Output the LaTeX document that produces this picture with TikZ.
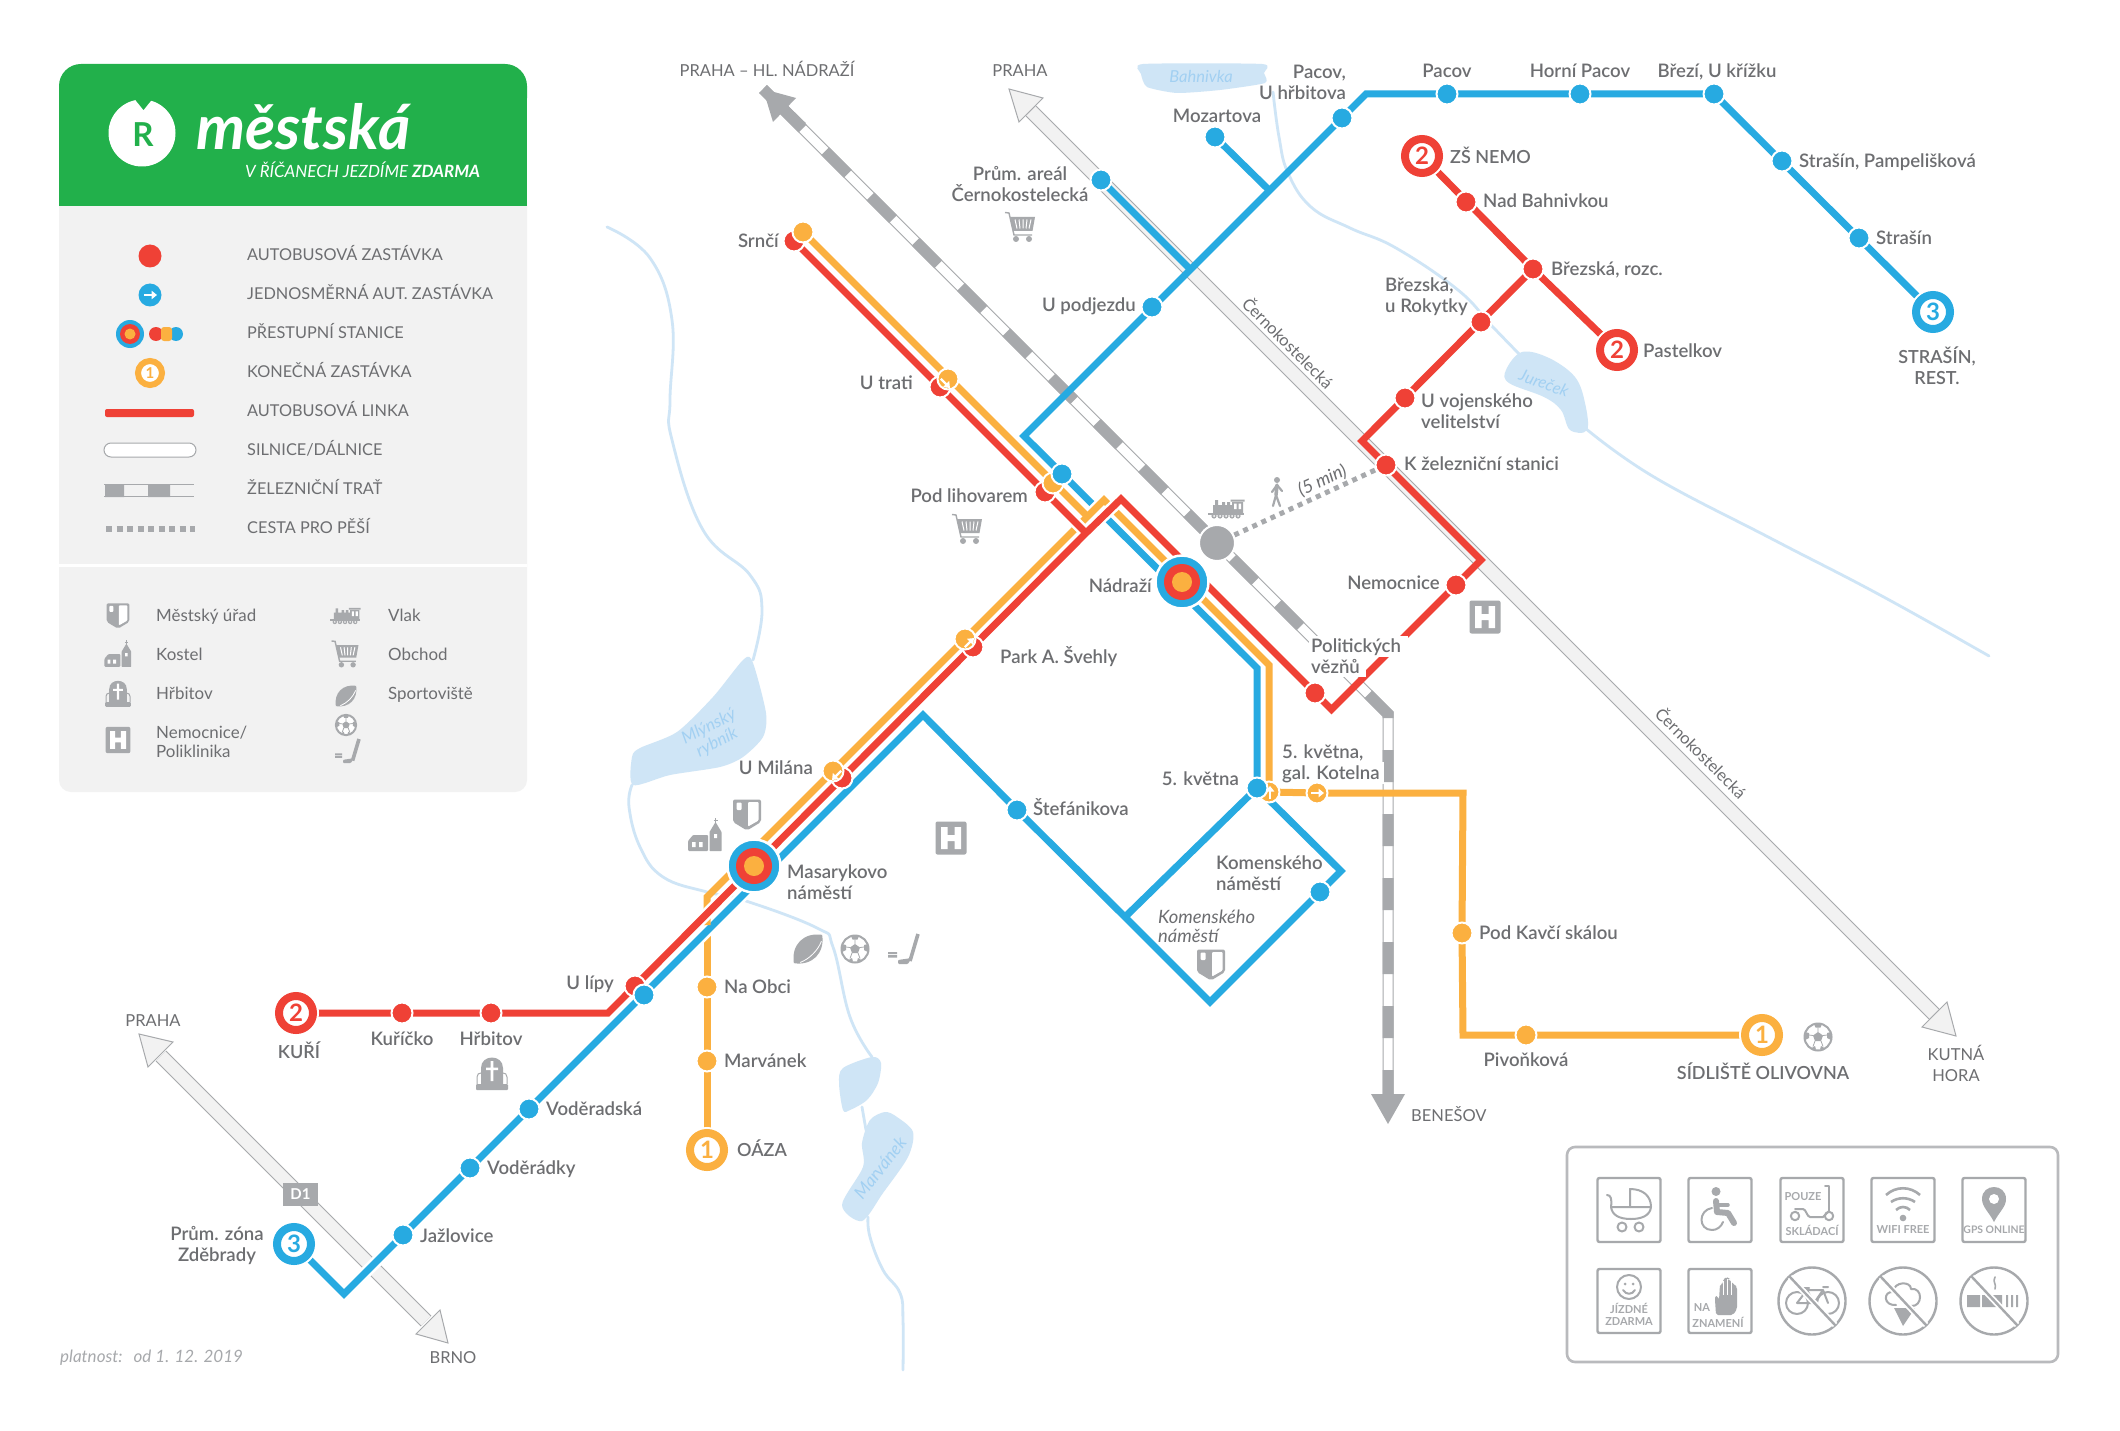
\documentclass[tikz,border=0pt]{standalone}
\usepackage{fontspec}
\setmainfont{Lato}
\newfontfamily\medf{Lato Semibold}
\usetikzlibrary{arrows.meta,calc}
\definecolor{cblue}{HTML}{27AAE1}
\definecolor{cred}{HTML}{EF4136}
\definecolor{corange}{HTML}{FBB040}
\definecolor{cgreen}{HTML}{22B04B}
\definecolor{cgrey}{HTML}{A7A9AC}
\definecolor{cpanel}{HTML}{F2F2F2}
\definecolor{criver}{HTML}{CFE5F6}
\definecolor{criv}{HTML}{A2D0F2}
\definecolor{ctext}{HTML}{6D6E71}
\pgfdeclarelayer{front}
\pgfsetlayers{main,front}
\tikzset{
 lab/.style={font=\fontsize{18.6}{21}\selectfont\medf,text=ctext,inner sep=0pt,text height=16,text depth=3},
 labu/.style={lab,font=\fontsize{18}{21}\selectfont\medf},
 labm/.style={font=\fontsize{18.6}{21}\selectfont\medf,text=ctext,inner sep=0pt,align=left},
 dest/.style={font=\fontsize{16.5}{21}\selectfont,text=ctext,inner sep=0pt,text height=16,text depth=3},
 legt/.style={font=\fontsize{16.3}{20}\selectfont,text=ctext,inner sep=0pt,anchor=west,text height=16,text depth=3},
 legl/.style={legt,font=\fontsize{16.9}{20}\selectfont},
 stop/.style={circle,draw=white,line width=2,inner sep=0pt,minimum size=21},
 rstop/.style={stop,fill=cred},
 bstop/.style={stop,fill=cblue},
 ostop/.style={stop,fill=corange},
 term/.style={circle,fill=white,draw=#1,line width=8,inner sep=0pt,minimum size=34,text=#1,
   font=\fontsize{24}{24}\selectfont\bfseries,preaction={draw=white,line width=12}},
 hubo/.style={circle,fill=cblue,draw=white,line width=2.5,inner sep=0pt,minimum size=53},
 hubm/.style={circle,fill=cred,inner sep=0pt,minimum size=36},
 hubi/.style={circle,fill=corange,inner sep=0pt,minimum size=20},
 line/.style={line width=7,draw=#1},
 casing/.style={line width=12,draw=white},
 river/.style={draw=criver,line width=2.8,line cap=round},
 pond/.style={fill=criver},
 rivt/.style={font=\fontsize{16.5}{18}\selectfont\itshape,text=criv,inner sep=0pt,align=center},
 road/.style={draw=cgrey,line width=15},
 roadin/.style={draw=cpanel,line width=13},
 arrowroad/.style={fill=cpanel,draw=cgrey,line width=1},
 sym/.style={font=\fontsize{11}{12}\selectfont\bfseries,text=cgrey,inner sep=0pt},
 fr/.style={draw=cgrey,line width=2.4,rounded corners=2},
 ic/.style={draw=cgrey,line width=2,line cap=round,line join=round},
 shieldicon/.pic={
   \fill[cgrey,rounded corners=2] (-14,-15.5) -- (14,-15.5) -- (14,7) -- (0,15.5) -- (-14,7) -- cycle;
   \fill[white,rounded corners=1] (1,-13) -- (11.5,-13) -- (11.5,5.5) -- (1,11.5) -- cycle;
   \fill[white,rounded corners=1] (-10.5,-12.5) rectangle (-5.5,-5);},
 churchicon/.pic={
   \fill[cgrey,rounded corners=1] (-17,16) -- (-17,6) -- (-12,0) -- (3,0) -- (3,16) -- cycle;
   \fill[cgrey,rounded corners=.5] (4.5,16) -- (4.5,-3) -- (10.5,-13) -- (16.5,-3) -- (16.5,16) -- cycle;
   \draw[cgrey,line width=1] (10.5,-17) -- (10.5,-12) (8.5,-15) -- (12.5,-15);
   \fill[white] (-13,7) rectangle (-9.5,12) (-6,7) rectangle (-2.5,12) (9,-1) rectangle (12,3);},
 carticon/.pic={
   \draw[cgrey,line width=1.4] (-15,-14.5) -- (-11,-14) -- (-6,8) -- (12,8);
   \fill[cgrey] (-10,-10) -- (15,-10) -- (12.5,4) -- (-7,4) -- cycle;
   \draw[white,line width=1] (-5,-7.5) -- (-3,1.5) (-1,-7.5) -- (0,1.5) (3,-7.5) -- (3,1.5) (7,-7.5) -- (6,1.5) (11,-7.5) -- (9,1.5);
   \fill[cgrey] (-4,12) circle[radius=3] (9,12) circle[radius=3];},
 trainicon/.pic={
   \fill[cgrey] (-13,-4) rectangle (6,4) (-11,-9) rectangle (-8,-4) (-4,-7) rectangle (-1,-4) (1,-7) rectangle (4,-4);
   \fill[cgrey] (6,-7) rectangle (17,4) (4.5,-9.5) rectangle (18.5,-7.5);
   \fill[white] (8,-5.5) rectangle (10.5,0) (12.5,-5.5) rectangle (15,0);
   \fill[cgrey] (-18,4) rectangle (18,6);
   \foreach \q in {-12,-6,0,6,12}{\fill[cgrey] (\q,7) circle[radius=2.6];\fill[white] (\q,7) circle[radius=1];}},
 walkicon/.pic={
   \fill[cgrey] (0,-12) circle[radius=3];
   \draw[cgrey,line width=3.5,line cap=round] (0,-7) -- (-1,3);
   \draw[cgrey,line width=2.2,line cap=round] (-1,3) -- (-4,14) (-1,3) -- (3,14) (0,-7) -- (5,-1) (0,-7) -- (-5,0);},
 rugbyicon/.pic={
   \fill[cgrey,rotate=45] (-20,0) .. controls (-9,-15) and (9,-15) .. (20,0) .. controls (9,15) and (-9,15) .. (-20,0) -- cycle;
   \draw[white,line width=.8,rotate=45] (-15,4) .. controls (-6,8) and (6,8) .. (15,4);},
 soccericon/.pic={
   \fill[white] (0,0) circle[radius=14];
   \draw[cgrey,line width=2] (0,0) circle[radius=13.5];
   \fill[cgrey] (0,-5) -- (5,-1.5) -- (3,4) -- (-3,4) -- (-5,-1.5) -- cycle;
   \fill[cgrey] (-4,-13) -- (4,-13) -- (2.5,-9.5) -- (-2.5,-9.5) -- cycle (13,-5) -- (13,3) -- (9,1) -- (9,-4) -- cycle (-13,-5) -- (-13,3) -- (-9,1) -- (-9,-4) -- cycle (-8,12) -- (-3,9) -- (-2,12.5) -- cycle (8,12) -- (3,9) -- (2,12.5) -- cycle;
   \draw[cgrey,line width=.8] (0,-5) -- (0,-9.5) (5,-1.5) -- (9,-2) (-5,-1.5) -- (-9,-2) (3,4) -- (5,9.5) (-3,4) -- (-5,9.5);},
 hockeyicon/.pic={
   \draw[cgrey,line width=3.6] (15,-15) -- (7,12);
   \fill[cgrey,rounded corners=1] (8.5,9) -- (5,15) -- (-5,15) -- (-5,11) -- cycle;
   \fill[cgrey] (-15,3) rectangle (-6,5.2) (-15,6.2) rectangle (-6,8.5);},
 graveicon/.pic={
   \fill[cgrey] (-11,10) -- (-11,-6) .. controls (-11,-20) and (11,-20) .. (11,-6) -- (11,10) -- cycle;
   \fill[cgrey,rounded corners=1] (-16,10) rectangle (16,16);
   \draw[cgrey,line width=1] (-15,10) -- (-15,3) .. controls (-15,0) and (-13,-1) .. (-11,-1) (15,10) -- (15,3) .. controls (15,0) and (13,-1) .. (11,-1);
   \fill[white] (-1.3,-13) rectangle (1.3,7) (-6,-6.5) rectangle (6,-4);},
 hospicon/.pic={
   \fill[cgrey,rounded corners=2] (-15.5,-16.5) rectangle (15.5,16.5);
   \fill[white] (-10,-11) rectangle (-3.5,11) (3.5,-11) rectangle (10,11) (-3.5,-3) rectangle (3.5,3);},
 darrow/.pic={
   \draw[white,line width=2.4,-{Triangle[width=8.5,length=5.5]}] (-6,0) -- (7,0);},
}
\begin{document}
\begin{tikzpicture}[x=1pt,y=-1pt]
\useasboundingbox (0,0) rectangle (2120,1431);
\fill[white] (0,0) rectangle (2120,1431);
% ---------- legend panel
\fill[cpanel,rounded corners=12] (59,190) rectangle (527,792);
\fill[cpanel] (59,190) rectangle (527,400);
\fill[white] (59,564) rectangle (527,566.5);
\fill[cgreen,rounded corners=22] (59,64) rectangle (527,120);
\fill[cgreen] (59,90) rectangle (527,206);
\fill[white] (142,133) circle[radius=33.5];
\fill[cgreen] (133,97) -- (143.5,110) -- (154,97) -- cycle;
\node[font=\fontsize{33}{33}\selectfont\bfseries,text=cgreen,inner sep=0pt] (logoR) at (143,135) {R};
\node[font=\fontsize{62}{62}\selectfont\bfseries\itshape,text=white,inner sep=0pt,anchor=base west] (logoT) at (196,150) {městská};
\node[font=\fontsize{16.9}{20}\selectfont\itshape,text=white,inner sep=0pt,anchor=base west] (logoS) at (245,178) {V ŘÍČANECH JEZDÍME \textbf{ZDARMA}};
% legend symbols
\node[circle,fill=cred,inner sep=0pt,minimum size=23] (lg1) at (150,256) {};
\node[circle,fill=cblue,inner sep=0pt,minimum size=23] (lg2) at (150,295) {};
\pic at (150,295) {darrow};
\node[circle,fill=cblue,inner sep=0pt,minimum size=28] (lg3) at (130,334) {};
\node[circle,fill=cred,inner sep=0pt,minimum size=20] (lg3b) at (130,334) {};
\node[circle,fill=corange,inner sep=0pt,minimum size=11] (lg3c) at (130,334) {};
\node[circle,fill=cred,inner sep=0pt,minimum size=14] (lg4a) at (156,334) {};
\node[circle,fill=cblue,inner sep=0pt,minimum size=14] (lg4b) at (176,334) {};
\fill[corange,rounded corners=3] (161,327) rectangle (172,341);
\node[circle,fill=white,draw=corange,line width=6,inner sep=0pt,minimum size=24,text=corange,font=\fontsize{15}{15}\selectfont\bfseries] (lg5) at (150,373) {1};
\fill[cred,rounded corners=2] (105,409) rectangle (194,417);
\draw[fill=white,draw=cgrey,line width=1,rounded corners=7] (104,443) rectangle (196,457);
\draw[cgrey,line width=1] (104,484.5) -- (194,484.5) (104,496.5) -- (194,496.5);
\fill[cgrey] (105,484) rectangle (124,497) (148,484) rectangle (170,497);
\draw[cgrey,line width=6,dash pattern=on 6 off 4.5] (106,529) -- (195,529);
\node[legt] (t1) at (247,254) {AUTOBUSOVÁ ZASTÁVKA};
\node[legt] (t2) at (247,293) {JEDNOSMĚRNÁ AUT. ZASTÁVKA};
\node[legt] (t3) at (247,332) {PŘESTUPNÍ STANICE};
\node[legt] (t4) at (247,371) {KONEČNÁ ZASTÁVKA};
\node[legt] (t5) at (247,410) {AUTOBUSOVÁ LINKA};
\node[legt] (t6) at (247,449) {SILNICE/DÁLNICE};
\node[legt] (t7) at (247,488) {ŽELEZNIČNÍ TRAŤ};
\node[legt] (t8) at (247,527) {CESTA PRO PĚŠÍ};
\pic[scale=.82] at (118,616) {shieldicon};
\pic[scale=.8] at (118,654) {churchicon};
\pic[scale=.8] at (118,694) {graveicon};
\pic[scale=.8] at (118,740) {hospicon};
\node[legl] (t9) at (156,615) {Městský úřad};
\node[legl] (t10) at (156,654) {Kostel};
\node[legl] (t11) at (156,693) {Hřbitov};
\node[legl,align=left,text height=,text depth=,font=\fontsize{16.9}{19.5}\selectfont] (t12) at (156,742) {Nemocnice/\\Poliklinika};
\pic[scale=.85] at (345,616) {trainicon};
\pic[scale=.9] at (345,654) {carticon};
\pic[scale=.72] at (346,696) {rugbyicon};
\pic[scale=.75] at (346,725) {soccericon};
\pic[scale=.8] at (347,751) {hockeyicon};
\node[legl] (t13) at (388,615) {Vlak};
\node[legl] (t14) at (388,654) {Obchod};
\node[legl] (t15) at (388,693) {Sportoviště};
% ---------- water
\fill[pond] plot[smooth cycle,tension=.35] coordinates {(1143,64) (1262,64) (1264,73) (1265,83) (1220,90) (1177,93) (1147,87) (1141,74)};
\node[rivt] (wBah) at (1201,76) {Bahnivka};
\draw[river] plot[smooth,tension=.7] coordinates {(1273,92) (1279,137) (1288,173) (1311,207) (1350,228) (1396,248) (1458,290) (1491,325) (1522,357)};
\fill[pond] plot[smooth cycle,tension=.6] coordinates {(1522,352) (1549,358) (1575,377) (1585,403) (1587,430) (1570,430) (1561,410) (1544,397) (1509,383) (1506,370)};
\draw[river] plot[smooth,tension=.7] coordinates {(1585,428) (1654,477) (1774,540) (1880,595) (1989,656)};
\node[rivt,rotate=-20] (wJur) at (1544,383) {Jureček};
\draw[river] plot[smooth,tension=.7] coordinates {(607,227) (650,258) (672,320) (670,400) (672,440) (703,530) (750,575) (762,610) (753,660)};
\fill[pond] plot[smooth cycle,tension=.45] coordinates {(744,659) (753,663) (766,713) (763,737) (743,757) (720,767) (670,775) (633,785) (632,757) (640,748) (677,732) (713,697)};
\node[rivt,rotate=27,font=\fontsize{17}{18}\selectfont\itshape] (wMly) at (713,735) {Mlýnský\\rybník};
\draw[river] plot[smooth,tension=.7] coordinates {(632,785) (629,807) (640,847) (663,877) (707,892) (743,900) (817,928) (833,947) (850,1017) (872,1057)};
\fill[pond] plot[smooth cycle,tension=.5] coordinates {(872,1057) (881,1063) (878,1083) (867,1100) (850,1110) (843,1110) (839,1083) (843,1068)};
\draw[river] (862,1107) -- (866,1130);
\fill[pond] plot[smooth cycle,tension=.5] coordinates {(885,1112) (897,1117) (913,1132) (908,1157) (883,1193) (862,1221) (842,1205) (863,1167) (862,1143) (870,1120)};
\draw[river] plot[smooth,tension=.7] coordinates {(868,1217) (870,1237) (883,1270) (900,1293) (903,1320) (903,1370)};
\node[rivt,rotate=52,font=\fontsize{17.5}{18}\selectfont\itshape] (wMar) at (880,1168) {Marvánek};
% ---------- coordinates
\coordinate (rdA) at (1031,111);
\coordinate (rdB) at (1934,1014);
\coordinate (dA) at (161,1056);
\coordinate (dB) at (426,1321);
\coordinate (tipA) at (1009,89);
\coordinate (tipB) at (1956,1036);
\coordinate (tipC) at (139,1034);
\coordinate (tipD) at (448,1343);
\coordinate (railTip) at (763,89);
\coordinate (railBend) at (1388,714);
\coordinate (railEnd) at (1388,1096);
\coordinate (railTip2) at (1388,1124);
% ---------- roads
\draw[road] (rdA) -- (rdB);
\draw[roadin] (rdA) -- (rdB);
\draw[arrowroad] (tipA) -- (1043,98) -- (1019,122) -- cycle;
\draw[arrowroad] (tipB) -- (1922,1027) -- (1947,1002) -- cycle;
\draw[road] (dA) -- (dB);
\draw[roadin] (dA) -- (dB);
\draw[arrowroad] (tipC) -- (173,1042) -- (148,1067) -- cycle;
\draw[arrowroad] (tipD) -- (416,1334) -- (440,1310) -- cycle;
% ---------- railway
\draw[cgrey,line width=11] (railTip) -- (railBend) -- (railEnd);
\draw[white,line width=9] (railTip) -- (railBend) -- (railEnd);
\draw[cgrey,line width=11,dash pattern=on 32 off 32,dash phase=40] (railTip) -- (railBend) -- (railEnd);
\draw[cgrey,line width=11] (railTip) -- (802,127);
\fill[cgrey] (railTip) -- (796,98) -- (773,122) -- cycle;
\fill[cgrey] (railTip2) -- (1371,1094) -- (1405,1094) -- cycle;
% ---------- front layer: stops and labels
\begin{pgfonlayer}{front}
% white patches under labels
\fill[white] (1309,636) rectangle (1408,657);
\fill[white] (1309,657) rectangle (1366,677);
\fill[white] (1281,762) rectangle (1384,784);
% rail hub
\node[circle,fill=cgrey,draw=white,line width=2,inner sep=0pt,minimum size=36] (sVlak) at (1217,543) {};
% red
\node[rstop] (rSrnci) at (794,241) {};
\node[ostop] (oSrnci) at (803,232) {};
\node[rstop] (rTrati) at (940,387) {};
\node[ostop] (oTrati) at (948,379) {};
\pic[rotate=-45] at (945,383) {darrow};
\node[rstop] (rLih) at (1045,492) {};
\node[ostop] (oLih) at (1053,483) {};
\node[bstop] (bLih) at (1062,474) {};
\node[rstop] (rPark) at (973,647) {};
\node[ostop] (oPark) at (965,639) {};
\pic[rotate=45] at (969,643) {darrow};
\node[rstop] (rMil) at (842,778) {};
\node[ostop] (oMil) at (833,771) {};
\pic[rotate=225] at (837,775) {darrow};
\node[rstop] (rLipy) at (635,986) {};
\node[bstop] (bLipy) at (644,995) {};
\node[rstop] (rHrb) at (491,1013) {};
\node[rstop] (rKur) at (402,1013) {};
\node[term=cred] (tKuri) at (296,1013) {2};
\node[rstop] (rPol) at (1315,693) {};
\node[rstop] (rNem) at (1456,585) {};
\node[rstop] (rZel) at (1386,465) {};
\node[rstop] (rVoj) at (1405,398) {};
\node[rstop] (rRok) at (1481,322) {};
\node[rstop] (rRoz) at (1533,269) {};
\node[rstop] (rNad) at (1466,202) {};
\node[term=cred] (tNemo) at (1422,156) {2};
\node[term=cred] (tPast) at (1617,350) {2};
% blue
\node[term=cblue] (tZde) at (294,1244) {3};
\node[bstop] (bJaz) at (403,1235) {};
\node[bstop] (bVdk) at (470,1168) {};
\node[bstop] (bVds) at (529,1109) {};
\node[bstop] (bSte) at (1017,810) {};
\node[bstop] (bKom) at (1320,892) {};
\node[ostop] (oKve) at (1269,792) {};
\node[bstop] (bKve) at (1257,788) {};
\pic[rotate=90] at (1270,793) {darrow};
\node[bstop] (bAre) at (1101,180) {};
\node[bstop] (bPod) at (1152,307) {};
\node[bstop] (bMoz) at (1215,137) {};
\node[bstop] (bHrb) at (1342,118) {};
\node[bstop] (bPac) at (1447,94) {};
\node[bstop] (bHor) at (1580,94) {};
\node[bstop] (bBre) at (1714,94) {};
\node[bstop] (bPam) at (1782,161) {};
\node[bstop] (bStr) at (1859,238) {};
\node[term=cblue] (tStr) at (1933,312) {3};
% orange
\node[ostop] (oKot) at (1317,793) {};
\pic at (1317,793) {darrow};
\node[ostop] (oKav) at (1462,933) {};
\node[ostop] (oPiv) at (1526,1035) {};
\node[term=corange] (tOli) at (1762,1035) {1};
\node[ostop] (oObc) at (707,987) {};
\node[ostop] (oMar) at (707,1061) {};
\node[term=corange] (tOaz) at (707,1150) {1};
% hubs
\node[hubo] (hNad) at (1182,582) {};
\node[hubm] (hNadR) at (1182,582) {};
\node[hubi] (hNadO) at (1182,582) {};
\node[hubo] (hMas) at (754,866) {};
\node[hubm] (hMasR) at (754,866) {};
\node[hubi] (hMasO) at (754,866) {};
% labels
\node[dest] (dPH) at (767,70) {PRAHA – HL. NÁDRAŽÍ};
\node[dest] (dP1) at (1020,70) {PRAHA};
\node[dest] (dP2) at (153,1020) {PRAHA};
\node[dest] (dBr) at (453,1357) {BRNO};
\node[dest,anchor=west] (dBe) at (1411,1115) {BENEŠOV};
\node[dest,align=center,text height=,text depth=] (dKH) at (1956,1063) {KUTNÁ\\HORA};
\node[dest,rotate=-45] (rC1) at (1288,343) {Černokostelecká};
\node[dest,rotate=-45] (rC2) at (1701,753) {Černokostelecká};
\node[lab,anchor=east] (nSrn) at (779,241) {Srnčí};
\node[lab,anchor=east] (nTra) at (913,383) {U trati};
\node[lab,anchor=east] (nLih) at (1028,496) {Pod lihovarem};
\node[labm,align=center] (nAre) at (1020,184) {Prům. areál\\Černokostelecká};
\node[lab,anchor=east] (nPod) at (1136,305) {U podjezdu};
\node[lab] (nMoz) at (1217,116) {Mozartova};
\node[labm,align=right,anchor=east] (nHrb) at (1346,82) {Pacov,\\U hřbitova};
\node[lab] (nPac) at (1447,71) {Pacov};
\node[lab] (nHor) at (1580,71) {Horní Pacov};
\node[lab] (nBre) at (1717,71) {Březí, U křížku};
\node[lab,anchor=west] (nPam) at (1799,161) {Strašín, Pampelišková};
\node[lab,anchor=west] (nStr) at (1876,238) {Strašín};
\node[labm,align=center,font=\fontsize{18}{21}\selectfont\medf] (nRes) at (1937,365.5) {STRAŠÍN,\\REST.};
\node[labu,anchor=west] (nNem) at (1450,157) {ZŠ NEMO};
\node[lab,anchor=west] (nNad) at (1483,201) {Nad Bahnivkou};
\node[lab,anchor=west] (nRoz) at (1551,269) {Březská, rozc.};
\node[labm,anchor=west] (nRok) at (1385,297) {Březská,\\u Rokytky};
\node[lab,anchor=west] (nPas) at (1643,351) {Pastelkov};
\node[labm,anchor=west] (nVoj) at (1421,411) {U vojenského\\velitelství};
\node[lab,anchor=west] (nZel) at (1404,464) {K železniční stanici};
\node[lab,anchor=east] (nNmc) at (1440,583) {Nemocnice};
\node[lab,anchor=east] (nNdr) at (1152,586) {Nádraží};
\node[lab,anchor=west] (nPrk) at (1000,657) {Park A. Švehly};
\node[labm,anchor=west] (nPol) at (1311,656) {Politických\\vězňů};
\node[lab,anchor=east] (nKve) at (1239,779) {5. května};
\node[labm,anchor=west] (nKot) at (1282,764) {5. května,\\gal. Kotelna};
\node[lab,anchor=west] (nSte) at (1033,809) {Štefánikova};
\node[labm,anchor=west] (nMas) at (787,882) {Masarykovo\\náměstí};
\node[lab,anchor=east] (nMil) at (813,768) {U Milána};
\node[lab,anchor=west] (nObc) at (724,987) {Na Obci};
\node[lab,anchor=west] (nMar) at (724,1061) {Marvánek};
\node[labu,anchor=west] (nOaz) at (737,1150) {OÁZA};
\node[labm,anchor=west] (nKom) at (1216,873) {Komenského\\náměstí};
\node[labm,anchor=west,font=\fontsize{18.4}{19}\selectfont\itshape] (nKoi) at (1158,926) {Komenského\\náměstí};
\node[lab,anchor=west] (nKav) at (1479,933) {Pod Kavčí skálou};
\node[lab] (nPiv) at (1526,1060) {Pivoňková};
\node[labu] (nOli) at (1763,1073) {SÍDLIŠTĚ OLIVOVNA};
\node[lab] (nKur) at (402,1039) {Kuříčko};
\node[lab] (nHbt) at (491,1039) {Hřbitov};
\node[labu] (nKui) at (299,1052) {KUŘÍ};
\node[lab,anchor=east] (nLip) at (614,983) {U lípy};
\node[lab,anchor=west] (nVds) at (546,1109) {Voděradská};
\node[lab,anchor=west] (nVdk) at (487,1168) {Voděrádky};
\node[lab,anchor=west] (nJaz) at (420,1236) {Jažlovice};
\node[labm,align=center] (nZde) at (217,1246) {Prům. zóna\\Zděbrady};
\node[dest,rotate=24.8,font=\fontsize{18}{20}\selectfont\itshape] (nMin) at (1322,480) {(5 min)};
\node[font=\fontsize{17}{20}\selectfont\itshape,text=cgrey,inner sep=0pt,anchor=west] (plat) at (60,1358) {platnost:\,\, od 1. 12. 2019};
\node[fill=cgrey,text=white,font=\fontsize{15}{15}\selectfont\bfseries,minimum width=35,minimum height=23,inner sep=0pt] (d1) at (300.5,1194.5) {D1};
% icons
\pic at (1020,227) {carticon};
\pic at (967,529) {carticon};
\pic at (1226,509) {trainicon};
\pic at (1277,492) {walkicon};
\pic at (1485,617) {hospicon};
\pic at (951,838) {hospicon};
\pic at (705,835) {churchicon};
\pic at (747,815) {shieldicon};
\pic at (1211,965) {shieldicon};
\pic at (492,1074) {graveicon};
\pic at (808,949) {rugbyicon};
\pic at (855,949) {soccericon};
\pic at (903,949) {hockeyicon};
\pic at (1818,1037) {soccericon};
\end{pgfonlayer}
% ---------- pedestrian link
\draw[cgrey,line width=5,dash pattern=on 5 off 5] (sVlak) -- (rZel);
% ---------- bus lines
\coordinate (oCorS) at (707,897);
\coordinate (oCas) at (745,859);
\coordinate (oApex) at (1104,500);
\coordinate (oJoin) at (1087.5,516.5);
\coordinate (oBend) at (1269,665);
\coordinate (oCorE) at (1463,793);
\coordinate (oCorF) at (1463,1035);
\coordinate (bV) at (344,1294);
\coordinate (bApex) at (923,715);
\coordinate (bJct) at (1125,917);
\coordinate (bBot) at (1210,1002);
\coordinate (bCor) at (1341,871);
\coordinate (bBend) at (1257,668);
\coordinate (bCorN) at (1024,436);
\coordinate (bJcM) at (1269,190);
\coordinate (bJcA) at (1190,269);
\coordinate (bTop) at (1366,94);
\coordinate (rCorW) at (608,1013);
\coordinate (rCor) at (1086,533);
\coordinate (rApex) at (1121,499);
\coordinate (rV) at (1331.5,709.5);
\coordinate (rCorE) at (1481,560);
\coordinate (rCorN) at (1362,441);
% orange south part, below the others
\draw[line=corange] (tOaz) -- (oMar.center) -- (oObc.center) -- (707,925);
\draw[line=corange] (oKve.center) -- (oKot.center) -- (oCorE) -- (oKav.center) -- (oCorF) -- (oPiv.center) -- (tOli);
% blue
\draw[casing] (bV) -- (bApex);
\draw[line=cblue] (tZde) -- (bV) -- (bApex) -- (bSte.center) -- (bJct) -- (bBot) -- (bKom.center) -- (bCor) -- (bKve.center) -- (bBend) -- (bCorN) -- (bHrb.center) -- (bTop) -- (bBre.center) -- (tStr);
\draw[line=cblue] (bJct) -- (bKve.center);
\draw[line=cblue] (bMoz.center) -- (bJcM);
\draw[line=cblue] (bAre.center) -- (bJcA);
% orange
\draw[casing] (oCas) -- (oApex) -- (oBend);
\draw[casing] (oSrnci.center) -- (oJoin);
\draw[line=corange] (707,925) -- (oCorS) -- (oApex) -- (oBend) -- (oKve.center);
\draw[line=corange] (oSrnci.center) -- (oJoin);
% red
\draw[casing] (rSrnci.center) -- (rCor) -- (rApex) -- (rPol.center);
\draw[casing] (rCor) -- (rCorW);
\draw[line=cred] (tKuri) -- (rCorW) -- (rCor) -- (rApex) -- (rV) -- (rCorE) -- (rCorN) -- (rRoz.center);
\draw[line=cred] (rSrnci.center) -- (rCor);
\draw[line=cred] (tNemo) -- (rRoz.center) -- (tPast);
% ---------- service panel
\draw[draw=cgrey!80,line width=2.6,rounded corners=8] (1567,1147) rectangle (2058,1362);
\foreach \x/\y in {1629/1210,1720/1210,1812/1210,1903/1210,1994/1210,1629/1301,1720/1301}{
  \draw[fr] (\x-31.5,\y-32) rectangle (\x+31.5,\y+32);}
\begin{scope}[shift={(1629,1210)}]
 \draw[ic] (1,-3) -- (1,-21) .. controls (14,-21) and (22,-14) .. (22,-3);
 \draw[ic] (-18,-3) -- (22,-3) .. controls (21,6) and (12,9) .. (2,9) .. controls (-10,9) and (-17,5) .. (-18,-3);
 \draw[ic] (-22,-15) .. controls (-18,-15) and (-17,-11) .. (-18,-3);
 \draw[ic] (-7,17) circle[radius=4.5] (10,17) circle[radius=4.5];
\end{scope}
\begin{scope}[shift={(1720,1210)}]
 \fill[cgrey] (-4,-18.5) circle[radius=4.5];
 \draw[cgrey,line width=6,line cap=round,line join=round] (-4,-9) -- (-3,2) -- (8,3) -- (14,13);
 \draw[cgrey,line width=3.5,line cap=round] (-3,-5) -- (8,-5);
 \draw[ic] (-8,-2) .. controls (-22,0) and (-22,20) .. (-8,20) .. controls (-3,20) and (1,17) .. (3,12);
\end{scope}
\begin{scope}[shift={(1812,1210)}]
 \draw[ic] (13,-24) -- (17,-24) -- (17,2);
 \draw[ic] (-17,-1) -- (-9,-1) .. controls (-6,-1) and (-5,7) .. (-2,7) -- (11,7) -- (17,1);
 \draw[ic] (-17,6) circle[radius=4.2] (17,6) circle[radius=4.2];
 \node[sym] (kP) at (-9,-13) {POUZE};
 \node[sym] (kS) at (0,20.5) {SKLÁDACÍ};
\end{scope}
\begin{scope}[shift={(1903,1210)}]
 \fill[cgrey] (0,8) circle[radius=3.3];
 \draw[cgrey,line width=2.6] (-7,0) .. controls (-3,-4) and (3,-4) .. (7,0);
 \draw[cgrey,line width=2.6] (-12,-8) .. controls (-5,-13) and (5,-13) .. (12,-8);
 \draw[cgrey,line width=2.6] (-17,-15) .. controls (-7,-24) and (7,-24) .. (17,-15);
 \node[sym] (kW) at (0,20) {WIFI FREE};
\end{scope}
\begin{scope}[shift={(1994,1210)}]
 \fill[cgrey] (0,12) .. controls (-5,2) and (-12,-3) .. (-12,-11) .. controls (-12,-27) and (12,-27) .. (12,-11) .. controls (12,-3) and (5,2) .. (0,12) -- cycle;
 \fill[white] (0,-11) circle[radius=5];
 \node[sym,font=\fontsize{10.4}{11}\selectfont\bfseries] (kG) at (0,20) {GPS ONLINE};
\end{scope}
\begin{scope}[shift={(1629,1301)}]
 \draw[ic] (0,-14) circle[radius=12];
 \fill[cgrey] (-4,-17) circle[radius=1.5] (4,-17) circle[radius=1.5];
 \draw[ic] (-6,-11) .. controls (-3,-6) and (3,-6) .. (6,-11);
 \node[sym] (kJ) at (0,7) {JÍZDNÉ};
 \node[sym] (kZ) at (0,21) {ZDARMA};
\end{scope}
\begin{scope}[shift={(1720,1301)}]
 \fill[cgrey,rounded corners=2] (-4,14) -- (-5,-1) -- (-5,-5) -- (-2,-5) -- (-1,-1) -- (0,-17) -- (3,-17) -- (3,-22) -- (7,-24) -- (8,-22) -- (9,-22) -- (12,-18) -- (15,-16) -- (17,-14) -- (17,8) -- (13,14) -- cycle;
 \draw[white,line width=.8] (3,-20) -- (3,-6) (7,-22) -- (7,-6) (11,-20) -- (11,-6);
 \node[sym] (kN) at (-18,7) {NA};
 \node[sym] (kM) at (-2,21) {ZNAMENÍ};
\end{scope}
\begin{scope}[shift={(1812,1301)}]
 \draw[ic,line width=2.4] (0,0) circle[radius=33.5];
 \draw[ic] (-15,2) circle[radius=11] (16,2) circle[radius=11];
 \draw[ic] (-15,2) -- (-5,-11) -- (11,-11) -- (16,2) (-5,-11) -- (2,2) -- (-15,2) (11,-11) -- (2,2) (11,-14) -- (16,-14) (-8,-13) -- (-3,-13);
 \draw[white,line width=6] (-22,-24) -- (23,24);
 \draw[ic,line width=2.4] (-22,-24) -- (23,24);
\end{scope}
\begin{scope}[shift={(1903,1301)}]
 \draw[ic,line width=2.4] (0,0) circle[radius=33.5];
 \draw[ic] (-7,4) .. controls (-20,5) and (-20,-10) .. (-10,-9) .. controls (-9,-20) and (8,-20) .. (8,-12) .. controls (20,-14) and (20,6) .. (8,5);
 \fill[cgrey] (-9,7) -- (12,7) -- (0,25) -- cycle;
 \draw[white,line width=6] (-22,-24) -- (23,24);
 \draw[ic,line width=2.4] (-22,-24) -- (23,24);
\end{scope}
\begin{scope}[shift={(1994,1301)}]
 \draw[ic,line width=2.4] (0,0) circle[radius=33.5];
 \fill[cgrey] (-27,-6) rectangle (-14,6) (-12,-6) rectangle (8,6);
 \fill[cgrey] (12,-6) rectangle (14,6) (17,-6) rectangle (19,6) (22,-6) rectangle (24,6);
 \draw[ic,line width=1.6] (1,-24) .. controls (-2,-19) and (3,-17) .. (1,-12);
 \draw[white,line width=6] (-22,-24) -- (23,24);
 \draw[ic,line width=2.4] (-22,-24) -- (23,24);
\end{scope}
\end{tikzpicture}
\end{document}
